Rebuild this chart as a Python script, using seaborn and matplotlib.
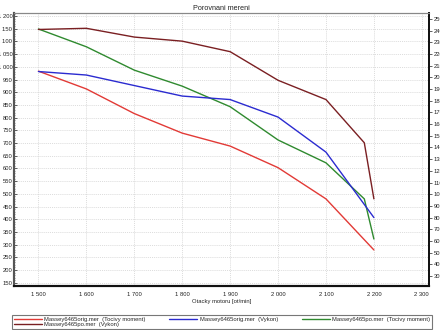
import numpy as np
import pandas as pd
import matplotlib
matplotlib.use('Agg')
import matplotlib.pyplot as plt
import seaborn as sns
from matplotlib.ticker import MultipleLocator, FuncFormatter
from matplotlib.lines import Line2D

# ---- data ----
rpm_orig = [1500, 1600, 1700, 1800, 1900, 2000, 2100, 2200]
torque_orig = [983, 913, 816, 739, 688, 603, 480, 279]
power_orig = [205, 202, 193, 184, 181, 166, 136, 80]

rpm_po = [1500, 1600, 1700, 1800, 1900, 2000, 2100, 2180, 2200]
torque_po = [1149, 1079, 987, 924, 843, 712, 622, 480, 322]
power_po = [241, 242, 234.5, 231, 222, 197.5, 181, 144, 96]

lab_t_orig = "Massey6465orig.mer  (Tocivy moment)"
lab_p_orig = "Massey6465orig.mer  (Vykon)"
lab_t_po = "Massey6465po.mer  (Tocivy moment)"
lab_p_po = "Massey6465po.mer  (Vykon)"

title = "Porovnani mereni"
xlabel = "Otacky motoru [ot/min]"

c_red = "#e23a36"
c_blue = "#2b2bd0"
c_green = "#2f8a2f"
c_dark = "#7a1f22"

df_t = pd.concat([
    pd.DataFrame({"rpm": rpm_orig, "value": torque_orig, "series": lab_t_orig}),
    pd.DataFrame({"rpm": rpm_po, "value": torque_po, "series": lab_t_po}),
])
df_p = pd.concat([
    pd.DataFrame({"rpm": rpm_orig, "value": power_orig, "series": lab_p_orig}),
    pd.DataFrame({"rpm": rpm_po, "value": power_po, "series": lab_p_po}),
])

sns.set_theme(style="white")
plt.rcParams['font.family'] = ['Liberation Sans', 'DejaVu Sans']

W, H = 440, 330
fig = plt.figure(figsize=(W / 100, H / 100), dpi=100)
fig.patch.set_facecolor("white")
ax = fig.add_axes([14 / W, 1 - 286 / H, (429 - 14) / W, (286 - 13) / H])
ax2 = ax.twinx()

sns.lineplot(data=df_t, x="rpm", y="value", hue="series",
             palette={lab_t_orig: c_red, lab_t_po: c_green},
             ax=ax, legend=False, estimator=None, sort=False, linewidth=1.0)
sns.lineplot(data=df_p, x="rpm", y="value", hue="series",
             palette={lab_p_orig: c_blue, lab_p_po: c_dark},
             ax=ax2, legend=False, estimator=None, sort=False, linewidth=1.0)

ax.set_xlim(1449, 2315)
ax.set_ylim(137, 1212)
ax2.set_ylim(21.4, 255.1)

ax.xaxis.set_major_locator(MultipleLocator(100))
ax.yaxis.set_major_locator(MultipleLocator(50))
ax.yaxis.set_minor_locator(MultipleLocator(10))
ax2.yaxis.set_major_locator(MultipleLocator(10))

fmt = FuncFormatter(lambda v, p: f"{int(round(v)):,}".replace(",", " "))
ax.xaxis.set_major_formatter(fmt)
ax.yaxis.set_major_formatter(fmt)

ax.grid(True, which="major", axis="both", color="#cfcfcf", linestyle=(0, (1.5, 1.5)), linewidth=0.5)
ax.set_axisbelow(True)

fs = 4.2
ax.tick_params(axis="x", labelsize=fs, length=2, width=0.5, pad=2.5, colors="#222222", direction="out")
ax.tick_params(axis="y", which="major", labelsize=fs, length=2, width=0.5, pad=1.2, colors="#222222", direction="in")
ax.tick_params(axis="y", which="minor", length=1, width=0.4, direction="in", colors="#444444")
ax2.tick_params(axis="y", labelsize=fs, length=2, width=0.5, pad=1.5, colors="#222222", direction="out")

ax.set_xlabel(xlabel, fontsize=fs, labelpad=1.5, color="#222222")
ax.set_ylabel("")
ax2.set_ylabel("")
ax.set_title(title, fontsize=5.2, pad=2.5, color="#222222")

for a in (ax, ax2):
    a.spines["top"].set_color("#888888")
    a.spines["top"].set_linewidth(0.8)
    a.spines["left"].set_color("#555555")
    a.spines["left"].set_linewidth(1.5)
    a.spines["bottom"].set_color("#111111")
    a.spines["bottom"].set_linewidth(1.5)
    a.spines["right"].set_color("#111111")
    a.spines["right"].set_linewidth(1.3)

handles = [
    Line2D([], [], color=c_red, lw=1.0),
    Line2D([], [], color=c_dark, lw=1.0),
    Line2D([], [], color=c_blue, lw=1.0),
    Line2D([], [], color=c_green, lw=1.0),
]
labels = [lab_t_orig, lab_p_po, lab_p_orig, lab_t_po]
leg = fig.legend(handles, labels, ncol=3, loc="lower left",
                 bbox_to_anchor=(12 / W, 1 - 329 / H, (432 - 12) / W, 20 / H),
                 mode="expand", fontsize=fs, frameon=True, fancybox=False,
                 handlelength=4.8, handletextpad=0.4, labelspacing=0.05,
                 borderpad=0.3, borderaxespad=0, columnspacing=1.0)
leg.get_frame().set_edgecolor("#555555")
leg.get_frame().set_linewidth(0.8)

fig.savefig("out.png", dpi=100)
